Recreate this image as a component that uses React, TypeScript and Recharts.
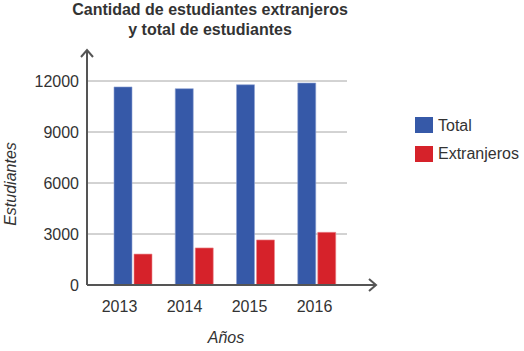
import { Bar, BarChart, CartesianGrid, XAxis, YAxis } from "recharts";

// datos del gráfico
const years = ["2013", "2014", "2015", "2016"];
const totalStudents = [11650, 11550, 11780, 11880];
const foreignStudents = [1820, 2180, 2650, 3100];
const yTicks = [0, 3000, 6000, 9000, 12000];

const data = years.map((year, i) => ({
  year,
  total: totalStudents[i],
  extranjeros: foreignStudents[i],
}));

const FONT = "'Liberation Sans', Arial, sans-serif";
const TEXT = "#333333";
const AXIS = "#555555";
const BLUE = "#3659a8";
const RED = "#d6222a";

export default function App() {
  return (
    <div
      style={{
        position: "absolute",
        left: 0,
        top: 0,
        width: 524,
        height: 351,
        background: "#fff",
        fontFamily: FONT,
      }}
    >
      <BarChart
        width={524}
        height={351}
        data={data}
        margin={{ top: 81, right: 177, bottom: 36, left: 0 }}
        barSize={18}
        barGap={2}
      >
        <CartesianGrid
          vertical={false}
          stroke="#a6a6a6"
          xAxisId="labels"
        />
        <XAxis
          xAxisId="labels"
          dataKey="year"
          axisLine={false}
          tickLine={false}
          tickSize={6}
          tickMargin={10}
          height={30}
          tick={{ fill: TEXT, fontSize: 16, fontFamily: FONT }}
        />
        <XAxis
          xAxisId="bars"
          dataKey="year"
          hide
          height={0}
          padding={{ left: 15, right: 0 }}
        />
        <YAxis
          width={87}
          domain={[0, 12000]}
          ticks={yTicks}
          axisLine={false}
          tickLine={false}
          tickSize={6}
          tickMargin={2}
          tick={{ fill: TEXT, fontSize: 16, fontFamily: FONT }}
        />
        <Bar
          xAxisId="bars"
          dataKey="total"
          name="Total"
          fill={BLUE}
          stroke="#8ea3d3"
          strokeWidth={0.6}
          isAnimationActive={false}
        />
        <Bar
          xAxisId="bars"
          dataKey="extranjeros"
          name="Extranjeros"
          fill={RED}
          stroke="#ec8a8e"
          strokeWidth={0.6}
          isAnimationActive={false}
        />
      </BarChart>

      {/* ejes con flechas, títulos y leyenda */}
      <svg
        width={524}
        height={351}
        style={{ position: "absolute", left: 0, top: 0, pointerEvents: "none" }}
      >
        <g stroke={AXIS} strokeWidth={2} fill="none">
          <line x1={87} y1={285} x2={87} y2={50} />
          <polyline points="81,57 87,50 93,57" />
          <line x1={87} y1={285} x2={376} y2={285} />
          <polyline points="369,279 376,285 369,291" />
        </g>
        <text
          x={210}
          y={15}
          textAnchor="middle"
          fontFamily={FONT}
          fontWeight="bold"
          fontSize={16}
          fill={TEXT}
        >
          Cantidad de estudiantes extranjeros
        </text>
        <text
          x={210}
          y={35}
          textAnchor="middle"
          fontFamily={FONT}
          fontWeight="bold"
          fontSize={16}
          fill={TEXT}
        >
          y total de estudiantes
        </text>
        <text
          x={226}
          y={343}
          textAnchor="middle"
          fontFamily={FONT}
          fontStyle="italic"
          fontSize={16}
          fill={TEXT}
        >
          Años
        </text>
        <text
          transform="translate(16,184) rotate(-90)"
          textAnchor="middle"
          fontFamily={FONT}
          fontStyle="italic"
          fontSize={16}
          fill={TEXT}
        >
          Estudiantes
        </text>
        <rect x={415} y={117} width={18} height={16} fill={BLUE} />
        <text x={438} y={131} fontFamily={FONT} fontSize={16} fill={TEXT}>
          Total
        </text>
        <rect x={415} y={146} width={18} height={16} fill={RED} />
        <text x={438} y={159} fontFamily={FONT} fontSize={16} fill={TEXT}>
          Extranjeros
        </text>
      </svg>
    </div>
  );
}
